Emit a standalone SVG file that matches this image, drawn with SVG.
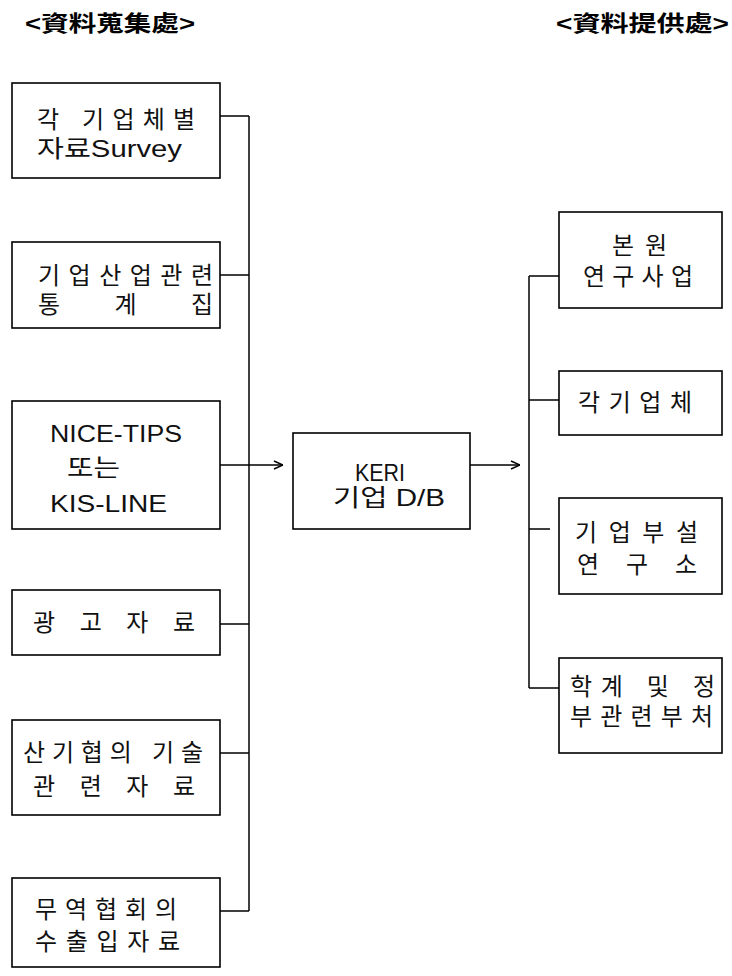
<svg xmlns="http://www.w3.org/2000/svg" width="732" height="976" viewBox="0 0 732 976">
<style>
  .box { fill: #fff; stroke: #000; stroke-width: 1.6; }
  .ln { fill: none; stroke: #000; stroke-width: 1.5; }
  .t { font-family: "Liberation Sans", "Noto Sans CJK KR", sans-serif; font-size: 24px; fill: #111; }
  .h { font-family: "Liberation Sans", "Noto Sans CJK KR", sans-serif; font-size: 22px; font-weight: bold; fill: #000; }
</style>
<defs>
  <marker id="arr" viewBox="0 0 10 10" refX="10" refY="5" markerWidth="10" markerHeight="10" markerUnits="userSpaceOnUse" orient="auto">
    <path d="M1,1 L10,5 L1,9" fill="none" stroke="#000" stroke-width="1.5"/>
  </marker>
</defs>
<rect width="732" height="976" fill="#fff"/>

<text class="h" x="25" y="31" textLength="170" lengthAdjust="spacingAndGlyphs">&lt;資料蒐集處&gt;</text>
<text class="h" x="556" y="31" textLength="173" lengthAdjust="spacingAndGlyphs">&lt;資料提供處&gt;</text>

<g id="connectors">
  <path class="ln" d="M249,116 V911"/>
  <path class="ln" d="M220,116 H249 M220,275 H249 M220,624 H249 M220,753 H249 M220,911 H249"/>
  <path class="ln" d="M220,465 H283" marker-end="url(#arr)"/>
  <path class="ln" d="M470,465 H520" marker-end="url(#arr)"/>
  <path class="ln" d="M529,276 V688"/>
  <path class="ln" d="M529,276 H559 M529,400 H559 M529,529 H550 M529,688 H559"/>
</g>

<g id="src1">
  <rect class="box" x="12" y="83" width="208" height="95"/>
  <text class="t" x="37" y="128" textLength="158" lengthAdjust="spacing">각 기업체별</text>
  <text class="t" x="37" y="157" textLength="145" lengthAdjust="spacingAndGlyphs">자료Survey</text>
</g>
<g id="src2">
  <rect class="box" x="12" y="242" width="208" height="86"/>
  <text class="t" x="38" y="284" textLength="175" lengthAdjust="spacing">기업산업관련</text>
  <text class="t" x="38" y="313" textLength="175" lengthAdjust="spacing">통 계 집</text>
</g>
<g id="src3">
  <rect class="box" x="12" y="401" width="208" height="128"/>
  <text class="t" x="50" y="442" textLength="132" lengthAdjust="spacingAndGlyphs">NICE-TIPS</text>
  <text class="t" x="67" y="476" font-size="20" textLength="53" lengthAdjust="spacingAndGlyphs">또는</text>
  <text class="t" x="50" y="512" textLength="117" lengthAdjust="spacingAndGlyphs">KIS-LINE</text>
</g>
<g id="src4">
  <rect class="box" x="12" y="590" width="208" height="65"/>
  <text class="t" x="33" y="631" textLength="162" lengthAdjust="spacing">광 고 자 료</text>
</g>
<g id="src5">
  <rect class="box" x="12" y="720" width="208" height="95"/>
  <text class="t" x="23" y="761" textLength="180" lengthAdjust="spacing">산기협의 기술</text>
  <text class="t" x="33" y="795" textLength="162" lengthAdjust="spacing">관 련 자 료</text>
</g>
<g id="src6">
  <rect class="box" x="12" y="878" width="208" height="89"/>
  <text class="t" x="35" y="918" textLength="142" lengthAdjust="spacing">무역협회의</text>
  <text class="t" x="35" y="950" textLength="145" lengthAdjust="spacing">수출입자료</text>
</g>

<g id="keri">
  <rect class="box" x="293" y="433" width="177" height="96"/>
  <text class="t" x="355" y="481" font-size="21" textLength="50" lengthAdjust="spacingAndGlyphs">KERI</text>
  <text class="t" x="333" y="506" font-size="21" textLength="112" lengthAdjust="spacingAndGlyphs">기업 D/B</text>
</g>

<g id="dst1">
  <rect class="box" x="559" y="212" width="163" height="96"/>
  <text class="t" x="612" y="254" textLength="55" lengthAdjust="spacing">본원</text>
  <text class="t" x="583" y="285" textLength="110" lengthAdjust="spacing">연구사업</text>
</g>
<g id="dst2">
  <rect class="box" x="559" y="371" width="163" height="64"/>
  <text class="t" x="578" y="411" textLength="114" lengthAdjust="spacing">각기업체</text>
</g>
<g id="dst3">
  <rect class="box" x="559" y="498" width="163" height="96"/>
  <text class="t" x="575" y="541" textLength="123" lengthAdjust="spacing">기업부설</text>
  <text class="t" x="577" y="573" textLength="120" lengthAdjust="spacing">연 구 소</text>
</g>
<g id="dst4">
  <rect class="box" x="559" y="658" width="163" height="95"/>
  <text class="t" x="570" y="695" textLength="145" lengthAdjust="spacing">학계 및 정</text>
  <text class="t" x="570" y="725" textLength="143" lengthAdjust="spacing">부관련부처</text>
</g>
</svg>
